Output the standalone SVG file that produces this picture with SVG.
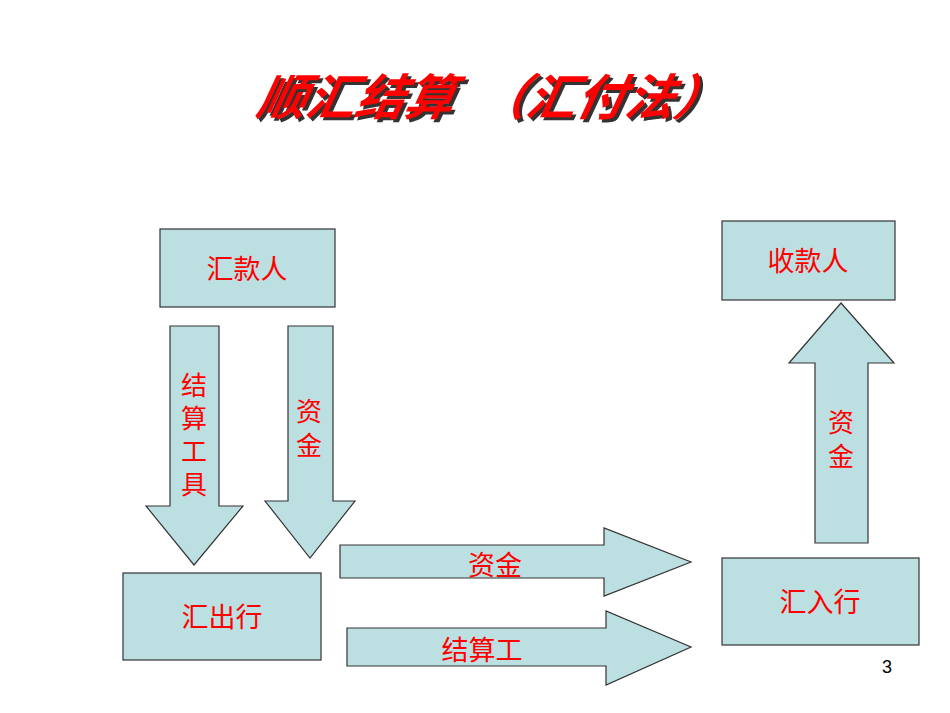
<svg xmlns="http://www.w3.org/2000/svg" width="950" height="713" viewBox="0 0 950 713">
<style>
.b{fill:#bce0e2;stroke:#333;stroke-width:1.2}
.t{font-family:"Noto Sans CJK SC",sans-serif;fill:#ff0000;font-size:27px;text-anchor:middle}
.v{font-size:26px}
.ti{font-family:"Noto Sans CJK SC",sans-serif;font-weight:bold;font-style:italic;font-size:49px}
</style>
<rect width="950" height="713" fill="#fff"/>
<g id="title">
<text class="ti" x="255" y="115" fill="#333" transform="translate(3,3) skewX(-12)" style="transform-origin:255px 115px">顺汇结算　（汇付法）</text>
<text class="ti" x="255" y="115" fill="#ff0000" transform="skewX(-12)" style="transform-origin:255px 115px">顺汇结算　（汇付法）</text>
</g>
<g id="connectors">
<polygon class="b" points="170,326 219,326 219,506 243,506 194,565 146,506 170,506"/>
<polygon class="b" points="288,326 333,326 333,501 355,501 310,558 265,501 288,501"/>
<polygon class="b" points="815,543 868,543 868,363 894,363 841,303 789,363 815,363"/>
<polygon class="b" points="340,545 604,545 604,528 691,562 604,596 604,578 340,578"/>
<polygon class="b" points="347,628 606,628 606,611 691,647 606,685 606,666 347,666"/>
<text class="t v" x="194" y="395">结</text>
<text class="t v" x="194" y="428">算</text>
<text class="t v" x="194" y="461">工</text>
<text class="t v" x="194" y="494">具</text>
<text class="t v" x="309" y="421">资</text>
<text class="t v" x="309" y="455">金</text>
<text class="t v" x="841" y="432">资</text>
<text class="t v" x="841" y="466">金</text>
<text class="t" x="495" y="575">资金</text>
<text class="t" x="482" y="660">结算工</text>
</g>
<g id="n1"><rect class="b" x="160" y="229" width="175" height="78"/><text class="t" x="247" y="279">汇款人</text></g>
<g id="n2"><rect class="b" x="722" y="221" width="173" height="79"/><text class="t" x="808" y="271">收款人</text></g>
<g id="n3"><rect class="b" x="123" y="573" width="198" height="87"/><text class="t" x="222" y="627">汇出行</text></g>
<g id="n4"><rect class="b" x="722" y="558" width="197" height="87"/><text class="t" x="820" y="612">汇入行</text></g>
<text x="887" y="673" font-family="Liberation Sans,sans-serif" font-size="18" text-anchor="middle">3</text>
</svg>
